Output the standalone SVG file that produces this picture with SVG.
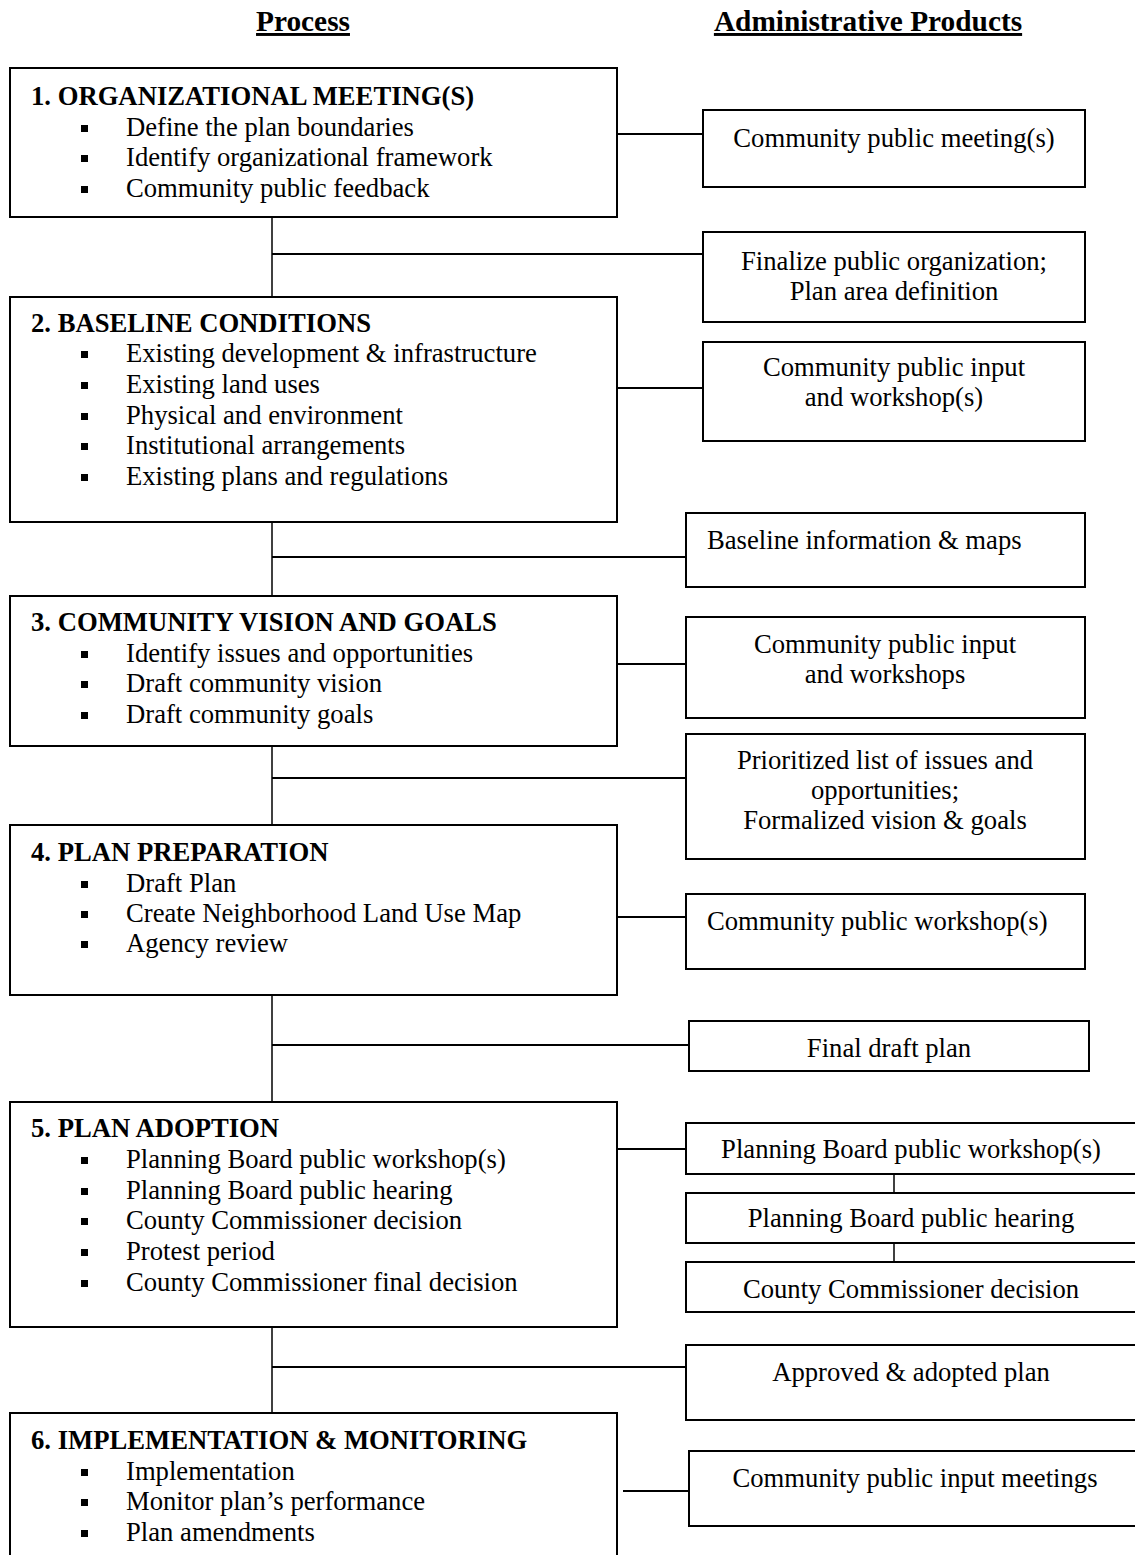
<svg xmlns="http://www.w3.org/2000/svg" width="1135" height="1555" viewBox="0 0 1135 1555">
<style>
text{font-family:"Liberation Serif","Times New Roman",serif;font-size:26.67px;fill:#000}
.hdr{font-size:29.33px;font-weight:bold;text-decoration:underline}
.ttl{font-weight:bold}
.c{text-anchor:middle}
.box{fill:#fff;stroke:#000;stroke-width:2}
.con{stroke:#000;stroke-width:2;fill:none}
.vcon{stroke:#000;stroke-width:1.5;fill:none}
.bul{fill:#000}
</style>
<defs>
<rect id="b" class="bul" width="7" height="7"/>
</defs>
<rect width="1135" height="1555" fill="#fff"/>
<g id="headers">
<text class="hdr c" x="303" y="31">Process</text>
<text class="hdr c" x="868" y="31">Administrative Products</text>
</g>
<g id="connectors">
<line class="con" x1="617" y1="134" x2="703" y2="134"/>
<line class="vcon" x1="272" y1="217" x2="272" y2="297"/>
<line class="con" x1="272" y1="254" x2="703" y2="254"/>
<line class="con" x1="617" y1="388" x2="703" y2="388"/>
<line class="vcon" x1="272" y1="522" x2="272" y2="596"/>
<line class="con" x1="272" y1="557" x2="686" y2="557"/>
<line class="con" x1="617" y1="664" x2="686" y2="664"/>
<line class="vcon" x1="272" y1="746" x2="272" y2="825"/>
<line class="con" x1="272" y1="778" x2="686" y2="778"/>
<line class="con" x1="617" y1="917" x2="686" y2="917"/>
<line class="vcon" x1="272" y1="995" x2="272" y2="1102"/>
<line class="con" x1="272" y1="1045" x2="689" y2="1045"/>
<line class="con" x1="617" y1="1149" x2="686" y2="1149"/>
<line class="vcon" x1="894" y1="1174" x2="894" y2="1193"/>
<line class="vcon" x1="894" y1="1243" x2="894" y2="1262"/>
<line class="vcon" x1="272" y1="1327" x2="272" y2="1413"/>
<line class="con" x1="272" y1="1367" x2="686" y2="1367"/>
<line class="con" x1="623" y1="1491" x2="689" y2="1491"/>
</g>
<g id="step1">
<rect class="box" x="10" y="68" width="607" height="149"/>
<text class="ttl" x="31" y="105">1. ORGANIZATIONAL MEETING(S)</text>
<use href="#b" x="81" y="125"/><text x="126" y="136">Define the plan boundaries</text>
<use href="#b" x="81" y="155"/><text x="126" y="166">Identify organizational framework</text>
<use href="#b" x="81" y="186"/><text x="126" y="197">Community public feedback</text>
</g>
<g id="prodA">
<rect class="box" x="703" y="110" width="382" height="77"/>
<text class="c" x="894" y="147">Community public meeting(s)</text>
</g>
<g id="prodB">
<rect class="box" x="703" y="232" width="382" height="90"/>
<text class="c" x="894" y="270">Finalize public organization;</text>
<text class="c" x="894" y="300">Plan area definition</text>
</g>
<g id="step2">
<rect class="box" x="10" y="297" width="607" height="225"/>
<text class="ttl" x="31" y="332">2. BASELINE CONDITIONS</text>
<use href="#b" x="81" y="351"/><text x="126" y="362">Existing development &amp; infrastructure</text>
<use href="#b" x="81" y="382"/><text x="126" y="393">Existing land uses</text>
<use href="#b" x="81" y="413"/><text x="126" y="424">Physical and environment</text>
<use href="#b" x="81" y="443"/><text x="126" y="454">Institutional arrangements</text>
<use href="#b" x="81" y="474"/><text x="126" y="485">Existing plans and regulations</text>
</g>
<g id="prodC">
<rect class="box" x="703" y="342" width="382" height="99"/>
<text class="c" x="894" y="376">Community public input</text>
<text class="c" x="894" y="406">and workshop(s)</text>
</g>
<g id="prodD">
<rect class="box" x="686" y="513" width="399" height="74"/>
<text x="707" y="549">Baseline information &amp; maps</text>
</g>
<g id="step3">
<rect class="box" x="10" y="596" width="607" height="150"/>
<text class="ttl" x="31" y="631">3. COMMUNITY VISION AND GOALS</text>
<use href="#b" x="81" y="651"/><text x="126" y="662">Identify issues and opportunities</text>
<use href="#b" x="81" y="681"/><text x="126" y="692">Draft community vision</text>
<use href="#b" x="81" y="712"/><text x="126" y="723">Draft community goals</text>
</g>
<g id="prodE">
<rect class="box" x="686" y="617" width="399" height="101"/>
<text class="c" x="885" y="653">Community public input</text>
<text class="c" x="885" y="683">and workshops</text>
</g>
<g id="prodF">
<rect class="box" x="686" y="734" width="399" height="125"/>
<text class="c" x="885" y="769">Prioritized list of issues and</text>
<text class="c" x="885" y="799">opportunities;</text>
<text class="c" x="885" y="829">Formalized vision &amp; goals</text>
</g>
<g id="step4">
<rect class="box" x="10" y="825" width="607" height="170"/>
<text class="ttl" x="31" y="861">4. PLAN PREPARATION</text>
<use href="#b" x="81" y="881"/><text x="126" y="892">Draft Plan</text>
<use href="#b" x="81" y="911"/><text x="126" y="922">Create Neighborhood Land Use Map</text>
<use href="#b" x="81" y="941"/><text x="126" y="952">Agency review</text>
</g>
<g id="prodG">
<rect class="box" x="686" y="894" width="399" height="75"/>
<text x="707" y="930">Community public workshop(s)</text>
</g>
<g id="prodH">
<rect class="box" x="689" y="1021" width="400" height="50"/>
<text class="c" x="889" y="1057">Final draft plan</text>
</g>
<g id="step5">
<rect class="box" x="10" y="1102" width="607" height="225"/>
<text class="ttl" x="31" y="1137">5. PLAN ADOPTION</text>
<use href="#b" x="81" y="1157"/><text x="126" y="1168">Planning Board public workshop(s)</text>
<use href="#b" x="81" y="1188"/><text x="126" y="1199">Planning Board public hearing</text>
<use href="#b" x="81" y="1218"/><text x="126" y="1229">County Commissioner decision</text>
<use href="#b" x="81" y="1249"/><text x="126" y="1260">Protest period</text>
<use href="#b" x="81" y="1280"/><text x="126" y="1291">County Commissioner final decision</text>
</g>
<g id="prodI">
<rect class="box" x="686" y="1123" width="452" height="51"/>
<text class="c" x="911" y="1158">Planning Board public workshop(s)</text>
</g>
<g id="prodJ">
<rect class="box" x="686" y="1193" width="452" height="50"/>
<text class="c" x="911" y="1227">Planning Board public hearing</text>
</g>
<g id="prodK">
<rect class="box" x="686" y="1262" width="452" height="50"/>
<text class="c" x="911" y="1298">County Commissioner decision</text>
</g>
<g id="prodL">
<rect class="box" x="686" y="1345" width="452" height="75"/>
<text class="c" x="911" y="1381">Approved &amp; adopted plan</text>
</g>
<g id="step6">
<rect class="box" x="10" y="1413" width="607" height="160"/>
<text class="ttl" x="31" y="1449">6. IMPLEMENTATION &amp; MONITORING</text>
<use href="#b" x="81" y="1469"/><text x="126" y="1480">Implementation</text>
<use href="#b" x="81" y="1499"/><text x="126" y="1510">Monitor plan’s performance</text>
<use href="#b" x="81" y="1530"/><text x="126" y="1541">Plan amendments</text>
</g>
<g id="prodM">
<rect class="box" x="689" y="1451" width="452" height="75"/>
<text class="c" x="915" y="1487">Community public input meetings</text>
</g>
</svg>
